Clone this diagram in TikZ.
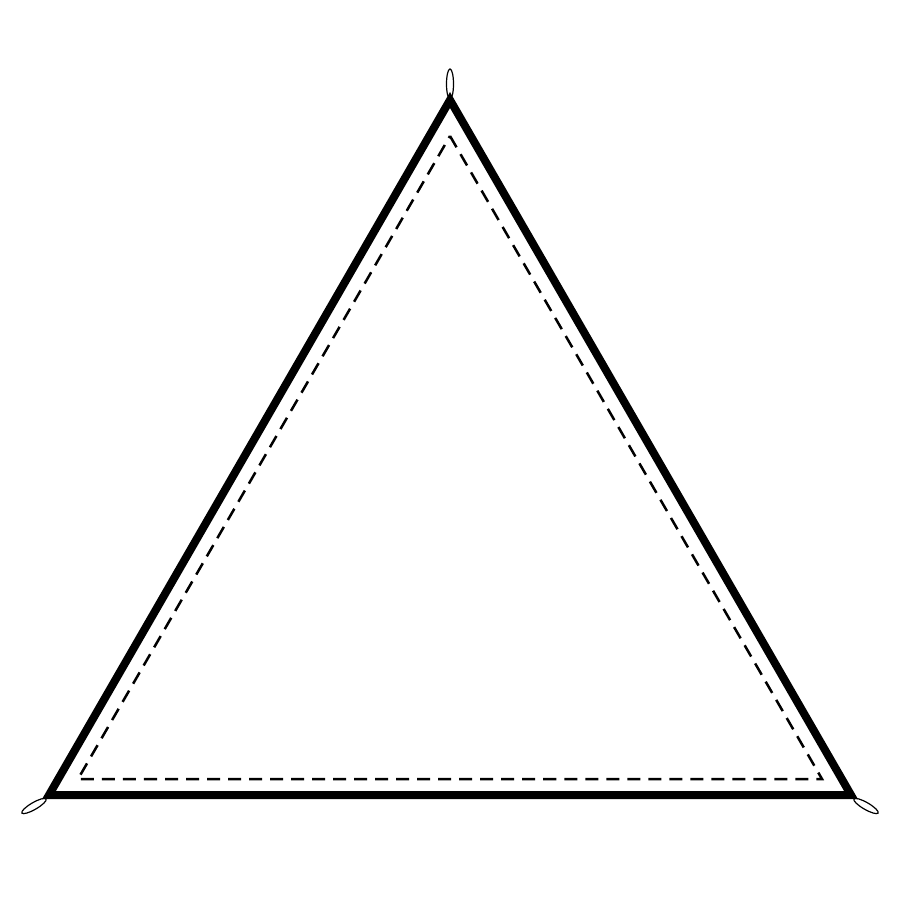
\documentclass[tikz,border=0pt]{standalone}
\usepackage{tikz}
\tikzstyle{edge} = [line width=0.08cm, line join=miter, miter limit=10]
\tikzstyle{seam} = [line width=0.025cm, dash pattern=on 0.13cm off 0.08cm]
\tikzstyle{loop} = [line width=0.012cm]

\begin{document}
\begin{tikzpicture}[x=0.01cm, y=-0.01cm]

\useasboundingbox (0,0) rectangle (900,900);

%% CORNERS

\coordinate (top) at (450,100);
\coordinate (left) at (49,795);
\coordinate (right) at (851,795);
\coordinate (itop) at (450,136);
\coordinate (ileft) at (78,779);
\coordinate (iright) at (822,779);

%% SAIL

\draw [edge] (top) -- (right) -- (left) -- cycle;
\draw [seam] (itop) -- (iright) -- (ileft) -- cycle;

%% RINGS

\draw [loop] (450,84) ellipse [x radius=3.5, y radius=15];
\draw [loop, rotate around={30:(34,806)}] (34,806) ellipse [x radius=14, y radius=3.5];
\draw [loop, rotate around={-30:(866,806)}] (866,806) ellipse [x radius=14, y radius=3.5];

\end{tikzpicture}
\end{document}
